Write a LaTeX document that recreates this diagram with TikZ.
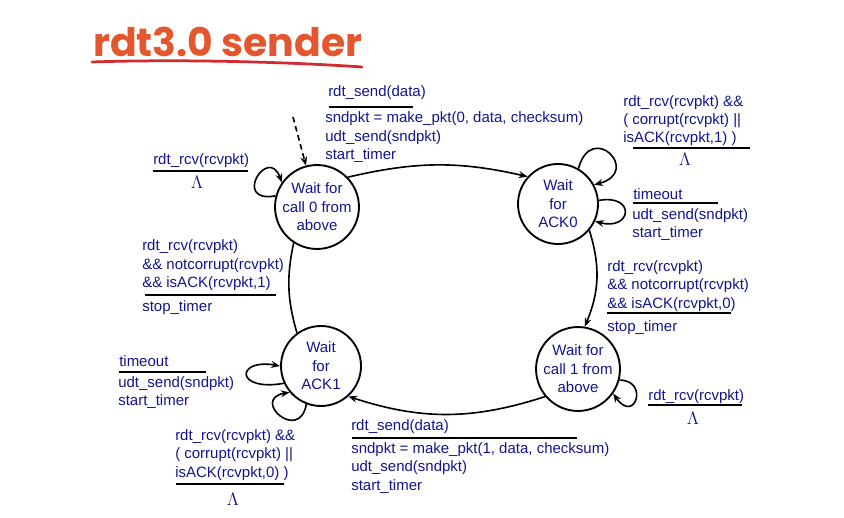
\documentclass[tikz,border=0pt]{standalone}
\usepackage{fontspec}
\setmainfont{Liberation Sans}
\newfontfamily\titlefont{Poppins}
\usetikzlibrary{arrows.meta}
\definecolor{navy}{HTML}{14148C}
\definecolor{headline}{HTML}{E4572E}
\definecolor{swash}{HTML}{D22A2E}

\begin{document}
\begin{tikzpicture}[
    x=0.8pt, y=0.8pt,
    >={Stealth[length=7pt, width=5.5pt]},
    txt/.style={font=\fontsize{12}{14.8}\selectfont, text=navy, inner sep=0pt},
    lbl/.style={txt, anchor=base west},
    lam/.style={txt, anchor=base, font=\fontsize{14.5}{16}\selectfont},
    state/.style={circle, draw, line width=1.5pt, minimum size=64pt, txt, align=center},
    tr/.style={->, line width=1.3pt},
    bar/.style={line width=1.5pt},
]

\useasboundingbox (0,0) rectangle (844,-518);

% title
\node[font=\titlefont\bfseries\fontsize{31.5}{36}\selectfont, text=headline,
      anchor=base west, inner sep=0pt] (title) at (93,-57) {rdt3.0 sender};
\draw[swash, line width=2.2pt, line cap=round]
    (92,-62) .. controls (180,-59) and (290,-62) .. (362,-67);

% states
\node[state] (wait0) at (317,-207) {Wait for\\call 0 from\\above};
\node[state] (ack0)  at (558,-204) {Wait\\for\\ACK0};
\node[state] (wait1) at (578,-369) {Wait for\\call 1 from\\above};
\node[state] (ack1)  at (321,-366) {Wait\\for\\ACK1};

% initial state
\coordinate (init) at (293,-117);
\draw[tr, dash pattern=on 4.5pt off 3pt] (init) -- (wait0);

% transitions
\draw[tr] (wait0.44) to[bend left=13] (ack0.138);
\draw[tr] (ack0.-40) to[bend left=20] (wait1.81);
\draw[tr] (wait1.220) to[bend left=18] (ack1.-48);
\draw[line width=1.3pt] (ack1.126) to[bend left=14] (wait0.237);

% self loops
\draw[tr] (wait0.165) .. controls +(190:45) and +(110:40) .. (wait0.145);
\draw[tr] (ack0.60) .. controls +(75:50) and +(15:50) .. (ack0.28);
\draw[tr] (ack0.5) .. controls +(10:38) and +(-15:38) .. (ack0.-25);
\draw[tr] (wait1.-15) .. controls +(0:30) and +(-55:38) .. (wait1.-35);
\draw[tr] (ack1.205) .. controls +(190:50) and +(170:45) .. (ack1.180);
\draw[tr] (ack1.249) .. controls +(260:40) and +(190:40) .. (ack1.220);

% wait0 -> ack0
\node[lbl] (send0) at (328,-97) {rdt\_send(data)};
\draw[bar] (329,-107) -- (413,-107);
\foreach \t [count=\i] in {{sndpkt = make\_pkt(0, data, checksum)}, udt\_send(sndpkt), start\_timer}
    \node[lbl] (send0act\i) at (325,{-104.5-18.5*\i}) {\t};

% wait0 loop
\node[lbl] (rcv0) at (153,-165) {rdt\_rcv(rcvpkt)};
\draw[bar] (153,-171) -- (248,-171);
\node[lam] (rcv0act) at (197,-189) {$\Lambda$};

% ack0 upper loop
\foreach \t [count=\i] in {rdt\_rcv(rcvpkt) \&\&, ( corrupt(rcvpkt) ||, {isACK(rcvpkt,1) )}}
    \node[lbl] (bad0\i) at (623,{-89-18*\i}) {\t};
\draw[bar] (633,-148) -- (750,-148);
\node[lam] (bad0act) at (685,-166) {$\Lambda$};

% ack0 timeout
\node[lbl] (tout0) at (633,-200) {timeout};
\draw[bar] (633,-203) -- (718,-203);
\foreach \t [count=\i] in {udt\_send(sndpkt), start\_timer}
    \node[lbl] (tout0act\i) at (632,{-202-18*\i}) {\t};

% ack0 -> wait1
\foreach \t [count=\i] in {rdt\_rcv(rcvpkt), \&\& notcorrupt(rcvpkt), {\&\& isACK(rcvpkt,0)}}
    \node[lbl] (good0\i) at (607,{-252.5-18.5*\i}) {\t};
\draw[bar] (607,-313) -- (731,-313);
\node[lbl] (good0act) at (607,-331) {stop\_timer};

% wait1 loop
\node[lbl] (rcv1) at (648,-400) {rdt\_rcv(rcvpkt)};
\draw[bar] (648,-405) -- (742,-405);
\node[lam] (rcv1act) at (693,-424) {$\Lambda$};

% wait1 -> ack1
\node[lbl] (send1) at (351,-430) {rdt\_send(data)};
\draw[bar] (352,-438) -- (577,-438);
\foreach \t [count=\i] in {{sndpkt = make\_pkt(1, data, checksum)}, udt\_send(sndpkt), start\_timer}
    \node[lbl] (send1act\i) at (351,{-434.5-18.5*\i}) {\t};

% ack1 timeout
\node[lbl] (tout1) at (119,-366) {timeout};
\draw[bar] (119,-372) -- (206,-372);
\foreach \t [count=\i] in {udt\_send(sndpkt), start\_timer}
    \node[lbl] (tout1act\i) at (118,{-369-18*\i}) {\t};

% ack1 lower loop
\foreach \t [count=\i] in {rdt\_rcv(rcvpkt) \&\&, ( corrupt(rcvpkt) ||, {isACK(rcvpkt,0) )}}
    \node[lbl] (bad1\i) at (175,{-421.5-18.5*\i}) {\t};
\draw[bar] (176,-484) -- (284,-484);
\node[lam] (bad1act) at (233,-505) {$\Lambda$};

% ack1 -> wait0
\foreach \t [count=\i] in {rdt\_rcv(rcvpkt), \&\& notcorrupt(rcvpkt), {\&\& isACK(rcvpkt,1)}}
    \node[lbl] (good1\i) at (142,{-232.5-18.5*\i}) {\t};
\draw[bar] (145,-295) -- (276,-295);
\node[lbl] (good1act) at (142,-311) {stop\_timer};

\end{tikzpicture}
\end{document}
